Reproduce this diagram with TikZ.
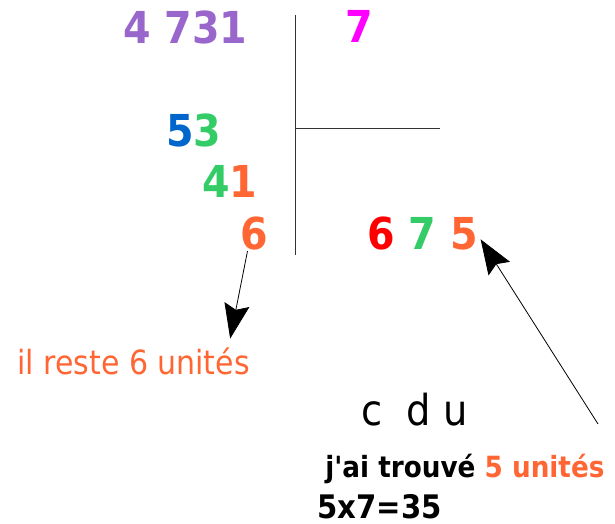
\documentclass[tikz,border=0pt]{standalone}
\usepackage{fontspec}
\setmainfont{DejaVu Sans Condensed}[Ligatures=TeXOff]
\usepackage{xcolor}
\usetikzlibrary{arrows.meta}
\definecolor{chviolet}{RGB}{153,102,204}
\definecolor{chrose}{RGB}{255,0,255}
\definecolor{chbleu}{RGB}{0,102,204}
\definecolor{chvert}{RGB}{51,204,102}
\definecolor{chorange}{RGB}{255,102,51}
\definecolor{chrouge}{RGB}{255,0,0}
\tikzset{
  chiffre/.style={font=\fontsize{33}{36}\selectfont\bfseries,anchor=base west,inner sep=0pt},
  texte/.style={anchor=base west,inner sep=0pt}
}

\begin{document}
\begin{tikzpicture}[x=0.75pt,y=-0.75pt,>={Stealth[length=26pt,width=19pt,inset=4pt]},line width=0.6pt]
  \useasboundingbox (0,0) rectangle (615,524);
  % la potence
  \draw[black!80] (295,15) -- (295,255);
  \draw[black!80] (295,128) -- (440,128);
  \node[chiffre,chviolet] (dividende) at (123,44) {4 731};
  \node[chiffre,chrose] (diviseur) at (345,43) {7};
  \node[chiffre] (reste1) at (166,147) {\textcolor{chbleu}{5}\textcolor{chvert}{3}};
  \node[chiffre] (reste2) at (202,198) {\textcolor{chvert}{4}\textcolor{chorange}{1}};
  \node[chiffre,chorange] (reste) at (240,250) {6};
  \node[chiffre] (quotient) at (367,250) {\textcolor{chrouge}{6} \textcolor{chvert}{7} \textcolor{chorange}{5}};
  \node[texte,chorange,font=\fontsize{25}{28}\selectfont] (phrase) at (17,375) {il reste 6 unités};
  \node[texte,font=\fontsize{32}{34}\selectfont] (cdu) at (361,426) {c\ \ d u};
  \node[texte,font=\fontsize{21.9}{24}\selectfont\bfseries] (trouve) at (325,477) {j'ai trouvé \textcolor{chorange}{5 unités}};
  \node[texte,font=\fontsize{24.3}{26}\selectfont\bfseries] (calcul) at (317,518) {5x7=35};
  \coordinate (pied) at (598,424);
  % les fleches
  \draw[->] ([xshift=-5pt]reste.south) -- ([xshift=-15pt,yshift=7pt]phrase.north east);
  \draw[->] (pied) -- ([xshift=2pt,yshift=-4pt]quotient.east);
\end{tikzpicture}
\end{document}
